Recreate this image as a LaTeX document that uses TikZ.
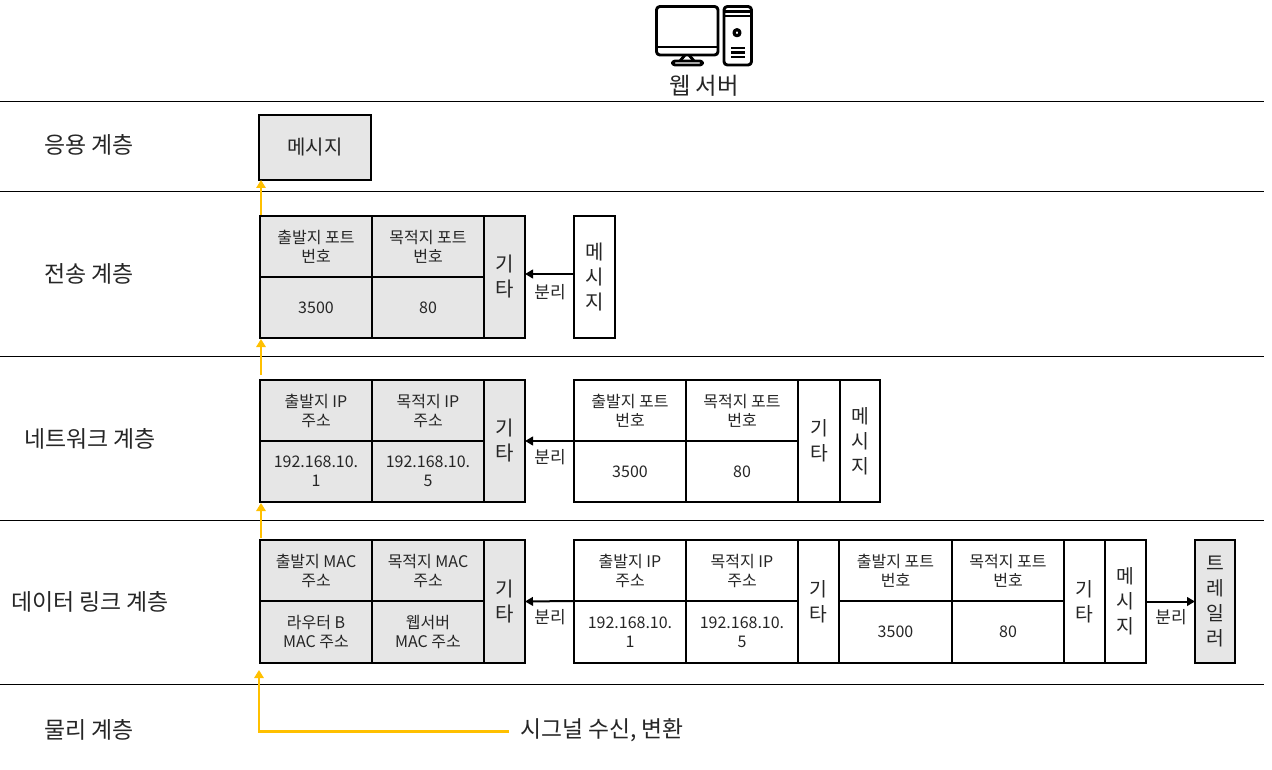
\documentclass[tikz,border=0pt]{standalone}
\usepackage{fontspec}
\setmainfont{Noto Sans CJK KR}
\usetikzlibrary{arrows.meta}
\definecolor{cellgray}{HTML}{E6E6E6}
\definecolor{amberline}{HTML}{FFC000}
\definecolor{inktext}{HTML}{262626}
\tikzset{
  cell/.style={draw=black,line width=1.5pt,inner sep=0pt,outer sep=0pt,align=center,text=inktext,font=\fontsize{12}{14.25}\selectfont},
  shade/.style={fill=cellgray},
  bigcell/.style={font=\fontsize{15}{18.75}\selectfont},
  midcell/.style={font=\fontsize{14.5}{18.75}\selectfont},
  layerlabel/.style={text=inktext,font=\fontsize{17.2}{20}\selectfont,inner sep=0pt},
  sepline/.style={line width=0.75pt,black},
  sparrow/.style={line width=1.5pt,black,-{Triangle[length=6pt,width=6.5pt]}},
  uparrow/.style={line width=1.7pt,amberline,-{Triangle[length=6pt,width=7pt]}},
  sep label/.style={text=inktext,font=\fontsize{12.75}{15}\selectfont,inner sep=0pt},
  icon/.style={line width=2.2pt,black,line join=round},
}
\newcommand{\mkcell}[7][]{%
  \pgfmathsetlengthmacro{\cw}{(#5-#3)*0.75pt}%
  \pgfmathsetlengthmacro{\ch}{(#6-#4)*0.75pt}%
  \pgfmathsetmacro{\cx}{(#3+#5)/2}%
  \pgfmathsetmacro{\cy}{(#4+#6)/2}%
  \node[cell,#1,minimum width=\cw,minimum height=\ch] (#2) at (\cx,\cy) {#7};%
}
\begin{document}
\begin{tikzpicture}[x=0.75pt,y=-0.75pt]
\useasboundingbox (0,0) rectangle (1272,770);
\fill[white] (0,0) rectangle (1272,770);

% layer separators
\coordinate (s1l) at (0,101.5); \coordinate (s1r) at (1264,101.5);
\coordinate (s2l) at (0,191.5); \coordinate (s2r) at (1264,191.5);
\coordinate (s3l) at (0,356.5); \coordinate (s3r) at (1264,356.5);
\coordinate (s4l) at (0,520.5); \coordinate (s4r) at (1264,520.5);
\coordinate (s5l) at (0,684); \coordinate (s5r) at (1264,684);
\draw[sepline] (s1l) -- (s1r);
\draw[sepline] (s2l) -- (s2r);
\draw[sepline] (s3l) -- (s3r);
\draw[sepline] (s4l) -- (s4r);
\draw[sepline] (s5l) -- (s5r);

% layer labels
\node[layerlabel] (lab1) at (89,145) {응용 계층};
\node[layerlabel] (lab2) at (89,274) {전송 계층};
\node[layerlabel] (lab3) at (90,439) {네트워크 계층};
\node[layerlabel] (lab4) at (90,602) {데이터 링크 계층};
\node[layerlabel] (lab5) at (89,730) {물리 계층};

% web server icon
\draw[icon,rounded corners=2.5pt] (656.5,6.5) rectangle (718,55);
\draw[icon] (656.5,47) -- (718,47);
\draw[icon] (685,55) -- (680,61) ;
\draw[icon] (689,55) -- (694,61) ;
\draw[icon,rounded corners=2pt] (672.5,65) -- (672.5,61) -- (702.5,61) -- (702.5,65) -- cycle;
\draw[icon,rounded corners=2.5pt] (724,6.5) rectangle (751.5,65);
\draw[icon,line width=1.6pt] (724,11.5) -- (751.5,11.5);
\draw[icon,line width=1.6pt] (724,16) -- (751.5,16);
\draw[icon,line width=2.4pt] (737,32.7) circle (3);
\draw[icon,line width=1.8pt] (731,48) -- (745,48);
\draw[icon,line width=1.8pt] (731,52.7) -- (745,52.7);
\draw[icon,line width=1.8pt] (731,57.3) -- (745,57.3);
\node[text=inktext,font=\fontsize{17.5}{20}\selectfont,inner sep=0pt] (web) at (704,86) {웹 서버};

% application
\mkcell[shade,bigcell]{msg}{259}{115}{371}{180}{메시지}

% transport
\mkcell[shade]{ta}{260}{216}{372}{277}{출발지 포트\\번호}
\mkcell[shade]{tb}{372}{216}{484}{277}{목적지 포트\\번호}
\mkcell[shade]{tc}{260}{277}{372}{338}{3500}
\mkcell[shade]{td}{372}{277}{484}{338}{80}
\mkcell[shade,bigcell]{te}{484}{216}{525}{338}{기\\타}
\mkcell[bigcell]{tm}{574}{216}{615}{338}{메\\시\\지}
\draw[sparrow] ([yshift=2.25pt]tm.west) -- ([yshift=2.25pt]te.east);
\node[sep label] (tsep) at (550,292) {분리};

% network
\mkcell[shade]{na}{260}{380}{372}{441}{출발지 IP\\주소}
\mkcell[shade]{nb}{372}{380}{484}{441}{목적지 IP\\주소}
\mkcell[shade]{nc}{260}{441}{372}{502}{192.168.10.\\1}
\mkcell[shade]{nd}{372}{441}{484}{502}{192.168.10.\\5}
\mkcell[shade,bigcell]{ne}{484}{380}{525}{502}{기\\타}
\mkcell{nf}{574}{380}{686}{441}{출발지 포트\\번호}
\mkcell{ng}{686}{380}{798}{441}{목적지 포트\\번호}
\mkcell{nh}{574}{441}{686}{502}{3500}
\mkcell{ni}{686}{441}{798}{502}{80}
\mkcell[midcell]{nj}{798}{380}{840}{502}{기\\타}
\mkcell[midcell]{nm}{840}{380}{880}{502}{메\\시\\지}
\draw[sparrow] (nf.south west) -- (ne.east);
\node[sep label] (nsep) at (550,457) {분리};

% data link
\mkcell[shade]{da}{260}{540}{372}{601}{출발지 MAC\\주소}
\mkcell[shade]{db}{372}{540}{484}{601}{목적지 MAC\\주소}
\mkcell[shade]{dc}{260}{601}{372}{663}{라우터 B\\MAC 주소}
\mkcell[shade]{dd}{372}{601}{484}{663}{웹서버\\MAC 주소}
\mkcell[shade,bigcell]{de}{484}{540}{525}{663}{기\\타}
\mkcell{df}{574}{540}{686}{601}{출발지 IP\\주소}
\mkcell{dg}{686}{540}{798}{601}{목적지 IP\\주소}
\mkcell{dh}{574}{601}{686}{663}{192.168.10.\\1}
\mkcell{di}{686}{601}{798}{663}{192.168.10.\\5}
\mkcell[midcell]{dj}{798}{540}{839}{663}{기\\타}
\mkcell{dk}{839}{540}{952}{601}{출발지 포트\\번호}
\mkcell{dl}{952}{540}{1064}{601}{목적지 포트\\번호}
\mkcell{dn}{839}{601}{952}{663}{3500}
\mkcell{do}{952}{601}{1064}{663}{80}
\mkcell[midcell]{dp}{1064}{540}{1105}{663}{기\\타}
\mkcell[midcell]{dm}{1105}{540}{1146}{663}{메\\시\\지}
\mkcell[shade,midcell]{tr}{1195}{540}{1235}{663}{트\\레\\일\\러}
\draw[sparrow] (df.south west) -- (de.east);
\draw[sparrow] (dm.east) -- (tr.west);
\node[sep label] (dsep1) at (550,617) {분리};
\node[sep label] (dsep2) at (1171,617) {분리};

% upward flow
\coordinate (u1) at (261,215);
\coordinate (u1e) at (261,180);
\coordinate (u2) at (261,375);
\coordinate (u2e) at (261,339);
\coordinate (u3) at (261,538);
\coordinate (u3e) at (261,503);
\coordinate (u4c) at (259,731.5);
\coordinate (u4e) at (259,670);
\draw[uparrow] (u1) -- (u1e);
\draw[uparrow] (u2) -- (u2e);
\draw[uparrow] (u3) -- (u3e);
\node[anchor=west,text=inktext,font=\fontsize{17.1}{20}\selectfont,inner sep=0pt] (sig) at (520,730) {시그널 수신, 변환};
\coordinate (sigend) at (509,731.5);
\draw[uparrow] (sigend) -- (u4c) -- (u4e);
\end{tikzpicture}
\end{document}
